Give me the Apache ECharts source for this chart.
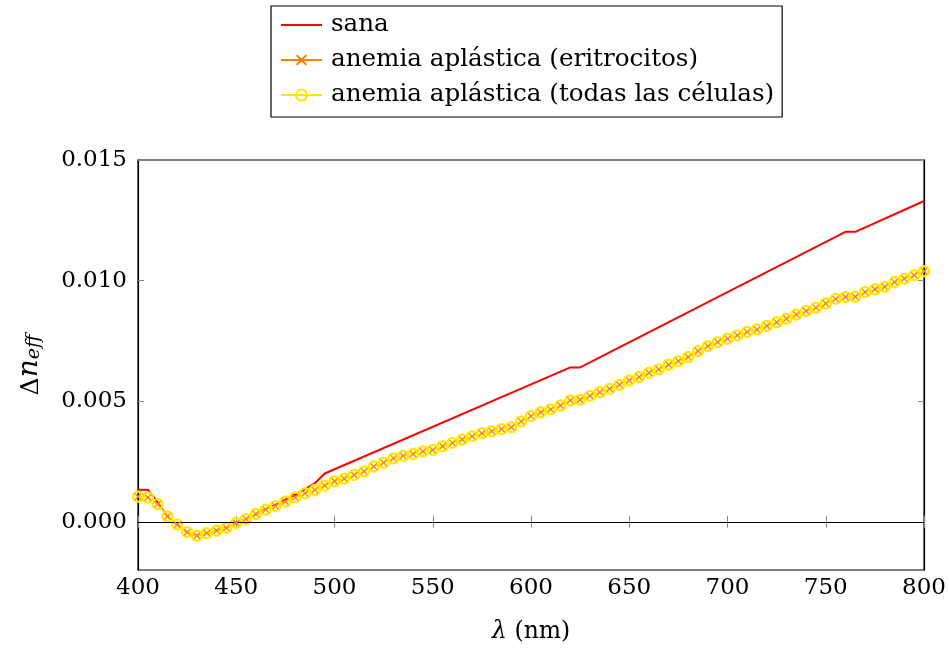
<!DOCTYPE html>
<html>
<head>
<meta charset="utf-8">
<script src="https://cdn.jsdelivr.net/npm/echarts@6/dist/echarts.min.js"></script>
<style>html,body{margin:0;padding:0;background:#fff}#c{width:949px;height:650px}</style>
</head>
<body>
<div id="c"></div>
<script>
// wavelength (nm)
const lambdaNm = [400,405,410,415,420,425,430,435,440,445,450,455,460,465,470,475,480,485,490,495,
  500,505,510,515,520,525,530,535,540,545,550,555,560,565,570,575,580,585,590,595,
  600,605,610,615,620,625,630,635,640,645,650,655,660,665,670,675,680,685,690,695,
  700,705,710,715,720,725,730,735,740,745,750,755,760,765,770,775,780,785,790,795,800];
// anemia aplástica (eritrocitos), Δn_eff
const eritrocitos = [0.00104,0.00101,0.00073,0.00022,-0.00012,-0.00043,-0.00058,-0.00047,-0.00037,-0.00025,
  -0.00005,0.00011,0.00032,0.00050,0.00065,0.00084,0.00101,0.00118,0.00132,0.00150,
  0.00168,0.00179,0.00194,0.00209,0.00229,0.00245,0.00263,0.00273,0.00281,0.00292,
  0.00298,0.00313,0.00327,0.00341,0.00354,0.00367,0.00375,0.00384,0.00392,0.00416,
  0.00438,0.00454,0.00466,0.00482,0.00503,0.00506,0.00522,0.00537,0.00551,0.00568,
  0.00586,0.00600,0.00618,0.00632,0.00651,0.00666,0.00683,0.00708,0.00728,0.00745,
  0.00759,0.00773,0.00787,0.00797,0.00812,0.00827,0.00842,0.00859,0.00874,0.00888,
  0.00905,0.00924,0.00932,0.00933,0.00952,0.00964,0.00974,0.00994,0.01008,0.01022,0.01039];
// anemia aplástica (todas las células), Δn_eff
const todas = [0.00104,0.00101,0.00073,0.00022,-0.00012,-0.00043,-0.00058,-0.00047,-0.00037,-0.00025,
  -0.00005,0.00011,0.00032,0.00050,0.00065,0.00084,0.00101,0.00118,0.00132,0.00150,
  0.00168,0.00179,0.00194,0.00209,0.00229,0.00245,0.00263,0.00273,0.00281,0.00292,
  0.00298,0.00313,0.00327,0.00341,0.00354,0.00367,0.00375,0.00384,0.00392,0.00416,
  0.00438,0.00454,0.00466,0.00482,0.00503,0.00506,0.00522,0.00537,0.00551,0.00568,
  0.00586,0.00600,0.00618,0.00632,0.00651,0.00666,0.00683,0.00708,0.00728,0.00745,
  0.00759,0.00773,0.00787,0.00797,0.00812,0.00827,0.00842,0.00859,0.00874,0.00888,
  0.00905,0.00924,0.00932,0.00933,0.00952,0.00964,0.00974,0.00994,0.01008,0.01022,0.01039];
// sana (key points)
const sanaX = [400,405,410,415,420,425,430,435,440,445,450,455,460,465,470,475,480,485,490,495,620,625,760,765,800];
const sanaY = [0.00133,0.00133,0.00080,0.00022,-0.00012,-0.00043,-0.00058,-0.00047,-0.00037,-0.00025,
  -0.00005,0.00011,0.00032,0.00052,0.00070,0.00092,0.00113,0.00135,0.00160,0.00200,0.00640,0.00640,0.01202,0.01202,0.01330];
const yTicks = [0, 0.005, 0.010, 0.015];
const seriesNames = ['sana','anemia aplástica (eritrocitos)','anemia aplástica (todas las células)'];

const FONT = 'DejaVu Serif';
const chart = echarts.init(document.getElementById('c'), null, {renderer:'canvas'});
const pair = (xs, ys) => xs.map((x,i)=>[x, ys[i]]);
const xMark = 'path://M0,1.3L1.3,0L5,3.7L8.7,0L10,1.3L6.3,5L10,8.7L8.7,10L5,6.3L1.3,10L0,8.7L3.7,5Z';
const tickStyle = {show:true, inside:true, length:6, lineStyle:{color:'#888', width:1}};

chart.setOption({
  animation:false,
  backgroundColor:'#fff',
  grid:{left:138, right:22, top:160, bottom:80, show:true, borderColor:'#000', borderWidth:1.2, backgroundColor:'transparent'},
  legend:{
    orient:'vertical', left:271, top:6,
    data:[
      {name:seriesNames[0], itemStyle:{opacity:0}},
      {name:seriesNames[1], lineStyle:{opacity:1, color:'#ff8000', width:2}},
      seriesNames[2]
    ],
    borderColor:'#000', borderWidth:1.2, padding:[4,8,7,9],
    itemWidth:41, itemHeight:14, itemGap:5,
    textStyle:{fontFamily:FONT, fontSize:24.6, color:'#000', lineHeight:30, padding:[0,0,0,4]}
  },
  xAxis:[{
    type:'value', min:400, max:800, interval:50, position:'bottom',
    axisLine:{show:true, lineStyle:{color:'#000', width:1.2}},
    axisTick:tickStyle, splitLine:{show:false},
    axisLabel:{fontFamily:FONT, fontSize:23, color:'#000', margin:7},
    name:'{i|λ} (nm)', nameLocation:'middle', nameGap:50,
    nameTextStyle:{fontFamily:FONT, fontSize:23.5, color:'#000', rich:{i:{fontFamily:FONT, fontStyle:'italic', fontSize:24, color:'#000'}}}
  },{
    type:'value', min:400, max:800, interval:50, position:'top',
    axisLine:{show:true, lineStyle:{color:'#000', width:1.2}},
    axisTick:tickStyle, axisLabel:{show:false}, splitLine:{show:false}
  }],
  yAxis:[{
    type:'value', min:-0.002, max:0.015,
    axisLine:{show:true, lineStyle:{color:'#000', width:1.2}},
    axisTick:Object.assign({}, tickStyle, {customValues:yTicks}),
    splitLine:{show:false},
    axisLabel:{fontFamily:FONT, fontSize:23, color:'#000', margin:11, customValues:yTicks, formatter:v=>v.toFixed(3)},
    name:'{d|Δ}{n|n}{s|eff}', nameLocation:'middle', nameGap:94, nameRotate:90,
    nameTextStyle:{color:'#000', rich:{
      d:{fontFamily:FONT, fontSize:25, color:'#000', lineHeight:34, verticalAlign:'bottom'},
      n:{fontFamily:FONT, fontStyle:'italic', fontSize:28, color:'#000', lineHeight:34, verticalAlign:'bottom'},
      s:{fontFamily:FONT, fontStyle:'italic', fontSize:19, color:'#000', lineHeight:22, verticalAlign:'bottom'}
    }}
  },{
    type:'value', min:-0.002, max:0.015, position:'right',
    axisLine:{show:true, lineStyle:{color:'#000', width:1.2}},
    axisTick:Object.assign({}, tickStyle, {customValues:yTicks}),
    axisLabel:{show:false, customValues:yTicks}, splitLine:{show:false}
  }],
  series:[
    {
      name:seriesNames[0], type:'line', data:pair(sanaX, sanaY), z:2,
      showSymbol:false, symbol:'circle', symbolSize:1, lineStyle:{color:'#ff0000', width:2}, itemStyle:{color:'#ff0000'},
      markLine:{silent:true, symbol:'none', label:{show:false}, lineStyle:{color:'#000', width:1.2, type:'solid'}, data:[{yAxis:0}]}
    },
    {
      name:seriesNames[2], type:'line', data:pair(lambdaNm, todas), z:4,
      symbol:'circle', symbolSize:10, showAllSymbol:true,
      lineStyle:{color:'#ffe800', width:1.8}, itemStyle:{color:'rgba(255,255,255,0)', borderColor:'#ffe800', borderWidth:2.4}
    },
    {
      name:seriesNames[1], type:'line', data:pair(lambdaNm, eritrocitos), z:5,
      symbol:xMark, symbolSize:7, showAllSymbol:true,
      lineStyle:{color:'#ff8000', width:1.4, opacity:0}, itemStyle:{color:'#ff8000', borderWidth:0}
    }
  ]
});
</script>
</body>
</html>
